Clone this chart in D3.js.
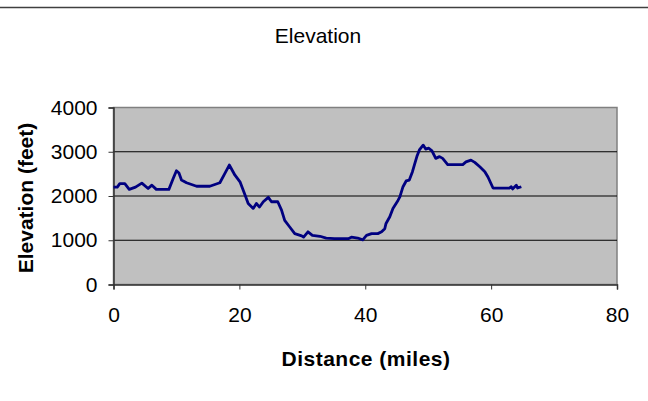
<!DOCTYPE html>
<html>
<head>
<meta charset="utf-8">
<script src="https://cdn.jsdelivr.net/npm/d3@7"></script>
<style>
  html, body { margin: 0; padding: 0; background: #fff; }
  svg text { font-family: "Liberation Sans", Arial, sans-serif; fill: #000; }
</style>
</head>
<body>
<svg id="chart" width="648" height="401"></svg>
<script>
// distance in miles / elevation in feet
const distance = [0, 0.6, 1, 1.8, 2.5, 3.5, 4.5, 5.5, 6.1, 6.8, 8.8, 9.5, 10, 10.4, 10.8, 11.6, 13.2, 15.3, 16.9, 17.7,
  18.4, 19.3, 20.1, 20.9, 21.4, 22.2, 22.7, 23.2, 23.8, 24.6, 25.1, 26.1, 26.7, 27.2, 28, 28.8, 29.9, 30.2, 30.9, 31.6,
  32.8, 33.8, 35.1, 37.3, 37.8, 38.8, 39.6, 40.2, 41, 42, 42.6, 43.1, 43.3, 43.9, 44.4, 45.2, 45.5, 46, 46.5, 47,
  47.5, 47.8, 48.2, 48.6, 49.2, 49.6, 50.1, 50.6, 51.2, 51.8, 52.3, 53.1, 55.5, 56, 56.8, 57.4, 58.2, 59, 59.5, 60.3,
  62.9, 63.2, 63.4, 64, 64.2, 64.8];
const elevation = [2200, 2200, 2280, 2280, 2150, 2200, 2290, 2170, 2245, 2150, 2150, 2400, 2570, 2520, 2360, 2300, 2220, 2220, 2300, 2510,
  2700, 2470, 2320, 2020, 1830, 1720, 1830, 1750, 1870, 1970, 1870, 1870, 1680, 1450, 1300, 1150, 1100, 1070, 1190, 1110,
  1090, 1050, 1035, 1035, 1070, 1050, 1010, 1110, 1150, 1150, 1190, 1260, 1380, 1530, 1720, 1900, 1980, 2210, 2340, 2360,
  2550, 2700, 2890, 3040, 3150, 3060, 3080, 3020, 2850, 2890, 2850, 2710, 2710, 2770, 2810, 2760, 2660, 2550, 2430, 2180,
  2180, 2210, 2160, 2245, 2180, 2210];
const xTicks = [0, 20, 40, 60, 80];
const yTicks = [0, 1000, 2000, 3000, 4000];

const svg = d3.select("#chart");
const plotL = 113.5, plotR = 617, plotT = 107.5, plotB = 284.5;

const x = d3.scaleLinear().domain([0, 80]).range([plotL, plotR]);
const y = d3.scaleLinear().domain([0, 4000]).range([plotB, plotT]);

// cropped frame line at the very top
svg.append("line")
  .attr("x1", 0).attr("x2", 648).attr("y1", 7.5).attr("y2", 7.5)
  .attr("stroke", "#404040").attr("stroke-width", 1.5);

// plot area
svg.append("rect")
  .attr("x", plotL).attr("y", plotT)
  .attr("width", plotR - plotL).attr("height", plotB - plotT)
  .attr("fill", "#c0c0c0")
  .attr("stroke", "#808080").attr("stroke-width", 1.5);

// gridlines
svg.append("g")
  .selectAll("line")
  .data(yTicks.filter(d => d > 0 && d < 4000))
  .join("line")
  .attr("x1", plotL).attr("x2", plotR)
  .attr("y1", d => y(d)).attr("y2", d => y(d))
  .attr("stroke", "#000").attr("stroke-width", 1);

// axes
const xAxis = svg.append("g")
  .attr("transform", `translate(0,${plotB})`)
  .call(d3.axisBottom(x).tickValues(xTicks).tickSize(5).tickPadding(18));
const yAxis = svg.append("g")
  .attr("transform", `translate(${plotL},0)`)
  .call(d3.axisLeft(y).tickValues(yTicks).tickSize(5).tickPadding(11).tickFormat(d3.format("d")));

[xAxis, yAxis].forEach(g => {
  g.select(".domain").attr("stroke", "#333").attr("stroke-width", 1.5);
  g.selectAll(".tick line").attr("stroke", "#333");
  g.selectAll(".tick text")
    .attr("font-size", 21)
    .style("font-family", "'Liberation Sans', Arial, sans-serif")
    .attr("fill", "#000");
});

// elevation profile
const pts = distance.map((d, i) => [d, elevation[i]]);
svg.append("path")
  .datum(pts)
  .attr("fill", "none")
  .attr("stroke", "#000080")
  .attr("stroke-width", 2.8)
  .attr("stroke-linejoin", "round")
  .attr("d", d3.line().x(d => x(d[0])).y(d => y(d[1])));

// titles
svg.append("text")
  .attr("x", 318).attr("y", 43)
  .attr("text-anchor", "middle")
  .attr("font-size", 21)
  .text("Elevation");

svg.append("text")
  .attr("x", 366).attr("y", 366)
  .attr("text-anchor", "middle")
  .attr("font-size", 21)
  .attr("font-weight", "bold")
  .attr("letter-spacing", 0.5)
  .text("Distance (miles)");

svg.append("text")
  .attr("transform", "translate(33,198) rotate(-90)")
  .attr("text-anchor", "middle")
  .attr("font-size", 21)
  .attr("font-weight", "bold")
  .text("Elevation (feet)");
</script>
</body>
</html>
